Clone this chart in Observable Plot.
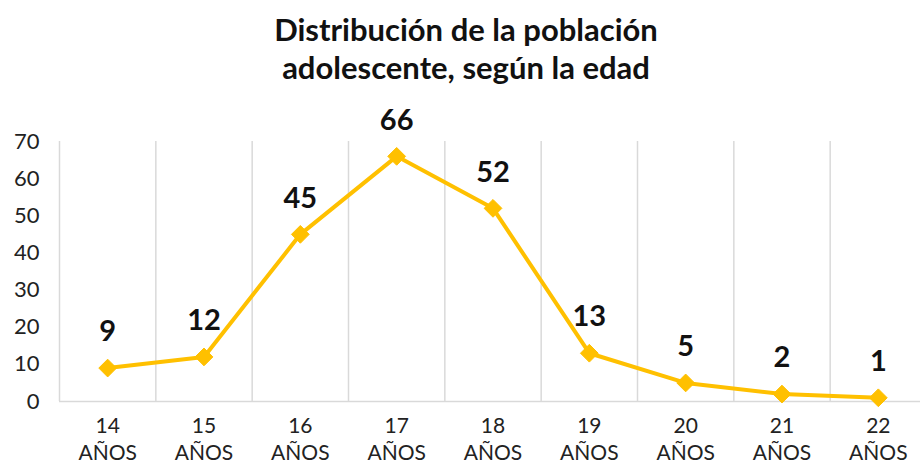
<!DOCTYPE html>
<html>
<head>
<meta charset="utf-8">
<script src="https://cdn.jsdelivr.net/npm/d3@7"></script>
<script src="https://cdn.jsdelivr.net/npm/@observablehq/plot@0.6"></script>
<style>
  body { margin: 0; background: #fff; font-family: Lato, "Noto Sans", sans-serif; }
  #title { height: 100px; box-sizing: border-box; padding-top: 10px; text-align: center; font-weight: bold; font-size: 31px; line-height: 38px; color: #111; padding-left: 12px; }
  svg { display: block; overflow: visible; }
</style>
</head>
<body>
<div id="title">Distribución de la población<br>adolescente, según la edad</div>
<div id="chart"></div>
<script>
const ages = ["14", "15", "16", "17", "18", "19", "20", "21", "22"];
const unit = "AÑOS";
const values = [9, 12, 45, 66, 52, 13, 5, 2, 1];
const yTicks = [0, 10, 20, 30, 40, 50, 60, 70];

const data = ages.map((a, i) => ({i, label: a + "\n" + unit, value: values[i]}));
const bounds = ages.slice(1).map((_, i) => i + 0.5);
const color = "#FFC000";

const chart = Plot.plot({
  width: 920,
  height: 364,
  marginTop: 41,
  marginBottom: 63,
  marginLeft: 59,
  marginRight: 0,
  style: {fontFamily: "Lato, 'Noto Sans', sans-serif", overflow: "visible"},
  x: {domain: [-0.5, ages.length - 0.5], range: [59, 926], axis: null},
  y: {domain: [0, 70], axis: null},
  marks: [
    Plot.ruleX(bounds, {x: d => d, y1: 0, y2: 70, stroke: "#d9d9d9", strokeWidth: 1.5}),
    Plot.ruleY([0], {x1: -0.5, x2: ages.length - 0.5, stroke: "#d9d9d9", strokeWidth: 1.5}),
    Plot.ruleX([-0.5], {y1: 0, y2: 70, stroke: "#d9d9d9", strokeWidth: 1.5}),
    Plot.text(yTicks, {x: -0.5, y: d => d, text: d => String(d), textAnchor: "end", dx: -20, fontSize: 22, fill: "#222"}),
    Plot.text(data, {x: "i", y: 0, text: "label", dy: 36, lineHeight: 1.32, fontSize: 21, fill: "#222"}),
    Plot.line(data, {x: "i", y: "value", stroke: color, strokeWidth: 4}),
    Plot.dot(data, {x: "i", y: "value", symbol: "diamond2", r: 8, fill: color, stroke: color, strokeWidth: 1}),
    Plot.text(data, {x: "i", y: "value", text: d => String(d.value), dy: -36, fontSize: 29, fontWeight: "bold", fill: "#111"})
  ]
});
document.getElementById("chart").appendChild(chart);
</script>
</body>
</html>
